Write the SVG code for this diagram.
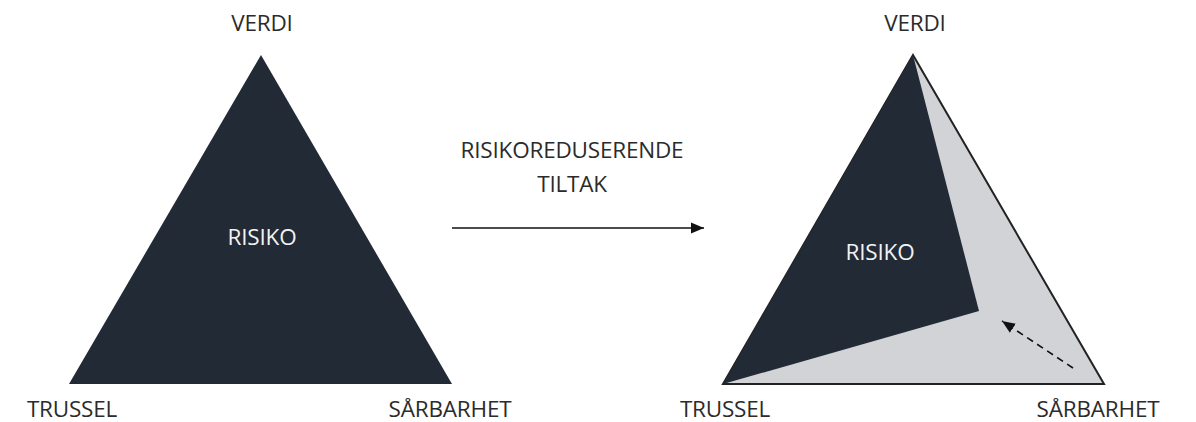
<svg xmlns="http://www.w3.org/2000/svg" width="1196" height="422" viewBox="0 0 1196 422">
  <style>
    .lbl { font-family: "Open Sans", "Liberation Sans", sans-serif; font-size: 22.5px; fill: #2b2b2b; letter-spacing: -0.2px; }
    .inner { font-family: "Open Sans", "Liberation Sans", sans-serif; font-size: 22.5px; fill: #f2f2f2; letter-spacing: -0.2px; }
    .dark { fill: #222a36; }
  </style>
  <defs>
    <marker id="head" viewBox="0 0 12 12" refX="12" refY="6" markerWidth="13" markerHeight="13" markerUnits="userSpaceOnUse" orient="auto">
      <path d="M0,1 L12,6 L0,11 z" fill="#111111"/>
    </marker>
  </defs>

  <!-- Initial risk triangle -->
  <g id="risk-before">
    <polygon class="dark" points="261,55 69,384 452,384"/>
    <text class="inner" x="262" y="245" text-anchor="middle">RISIKO</text>
    <text class="lbl" x="262" y="31" text-anchor="middle">VERDI</text>
    <text class="lbl" x="72" y="417" text-anchor="middle">TRUSSEL</text>
    <text class="lbl" x="450" y="417" text-anchor="middle">SÅRBARHET</text>
  </g>

  <!-- Measures label -->
  <g id="measures">
    <text class="lbl" x="572" y="158" text-anchor="middle">RISIKOREDUSERENDE</text>
    <text class="lbl" x="572" y="192" text-anchor="middle">TILTAK</text>
  </g>

  <!-- Reduced risk triangle -->
  <g id="risk-after">
    <polygon points="913,55 723,384 1104,384" fill="#d1d3d7" stroke="#222222" stroke-width="2" stroke-linejoin="miter"/>
    <polygon class="dark" points="913,55 723,384 979,311"/>
    <text class="inner" x="880" y="260" text-anchor="middle">RISIKO</text>
    <text class="lbl" x="915" y="31" text-anchor="middle">VERDI</text>
    <text class="lbl" x="725" y="417" text-anchor="middle">TRUSSEL</text>
    <text class="lbl" x="1098" y="417" text-anchor="middle">SÅRBARHET</text>
  </g>

  <!-- Connectors -->
  <g id="connectors">
    <line x1="452" y1="228" x2="704" y2="228" stroke="#111111" stroke-width="1.6" marker-end="url(#head)"/>
    <line x1="1073" y1="368" x2="1002" y2="321" stroke="#111111" stroke-width="1.6" stroke-dasharray="7,5" marker-end="url(#head)"/>
  </g>
</svg>
